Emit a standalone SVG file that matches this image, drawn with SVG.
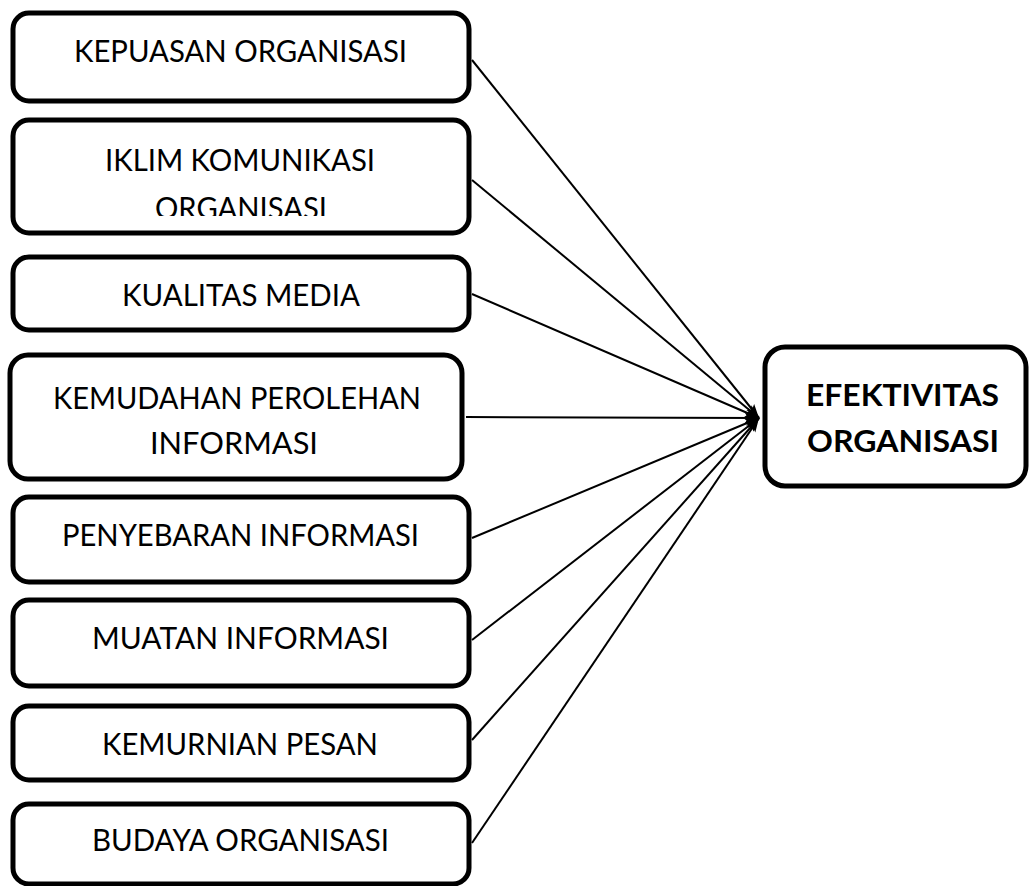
<svg xmlns="http://www.w3.org/2000/svg" width="1030" height="886" viewBox="0 0 1030 886">
<style>
.box{fill:#fff;stroke:#000;stroke-width:5}
.t{font-family:Lato,"Liberation Sans",sans-serif;font-size:30px;fill:#000}
.b{font-weight:bold}
.c{stroke:#000;stroke-width:2;fill:none}
</style>
<defs>
<marker id="ah" markerUnits="userSpaceOnUse" markerWidth="16" markerHeight="12" refX="14" refY="5" orient="auto">
<path d="M0,0 L14,5 L0,10 L3,5 Z" fill="#000"/>
</marker>
<clipPath id="clip2"><rect x="0" y="0" width="1030" height="216"/></clipPath>
</defs>
<rect width="1030" height="886" fill="#fff"/>
<g id="connectors">
<line class="c" x1="472" y1="60" x2="759" y2="418" marker-end="url(#ah)"/>
<line class="c" x1="472" y1="180" x2="759" y2="418" marker-end="url(#ah)"/>
<line class="c" x1="472" y1="294" x2="759" y2="418" marker-end="url(#ah)"/>
<line class="c" x1="466" y1="417" x2="759" y2="418" marker-end="url(#ah)"/>
<line class="c" x1="472" y1="538" x2="759" y2="418" marker-end="url(#ah)"/>
<line class="c" x1="472" y1="640" x2="759" y2="418" marker-end="url(#ah)"/>
<line class="c" x1="472" y1="740" x2="759" y2="418" marker-end="url(#ah)"/>
<line class="c" x1="472" y1="843" x2="759" y2="418" marker-end="url(#ah)"/>
</g>
<g id="n1">
<rect class="box" x="13" y="13" width="456" height="88" rx="16"/>
<text class="t" x="74" y="62" textLength="333" lengthAdjust="spacingAndGlyphs">KEPUASAN ORGANISASI</text>
</g>
<g id="n2">
<rect class="box" x="13" y="120" width="456" height="113" rx="16"/>
<text class="t" x="105" y="171" textLength="270" lengthAdjust="spacingAndGlyphs">IKLIM KOMUNIKASI</text>
<text class="t" x="155" y="219" textLength="172" lengthAdjust="spacingAndGlyphs" clip-path="url(#clip2)">ORGANISASI</text>
</g>
<g id="n3">
<rect class="box" x="13" y="257" width="456" height="73" rx="16"/>
<text class="t" x="122" y="306" textLength="238" lengthAdjust="spacingAndGlyphs">KUALITAS MEDIA</text>
</g>
<g id="n4">
<rect class="box" x="10" y="355" width="452" height="124" rx="18"/>
<text class="t" x="53" y="409" textLength="368" lengthAdjust="spacingAndGlyphs">KEMUDAHAN PEROLEHAN</text>
<text class="t" x="150" y="454" textLength="168" lengthAdjust="spacingAndGlyphs">INFORMASI</text>
</g>
<g id="n5">
<rect class="box" x="13" y="497" width="456" height="85" rx="16"/>
<text class="t" x="62" y="546" textLength="357" lengthAdjust="spacingAndGlyphs">PENYEBARAN INFORMASI</text>
</g>
<g id="n6">
<rect class="box" x="13" y="600" width="456" height="86" rx="16"/>
<text class="t" x="92" y="649" textLength="297" lengthAdjust="spacingAndGlyphs">MUATAN INFORMASI</text>
</g>
<g id="n7">
<rect class="box" x="13" y="706" width="456" height="74" rx="16"/>
<text class="t" x="102" y="755" textLength="276" lengthAdjust="spacingAndGlyphs">KEMURNIAN PESAN</text>
</g>
<g id="n8">
<rect class="box" x="13" y="804" width="456" height="80" rx="16"/>
<text class="t" x="92" y="851" textLength="297" lengthAdjust="spacingAndGlyphs">BUDAYA ORGANISASI</text>
</g>
<g id="n9">
<rect class="box" x="765" y="347" width="261" height="139" rx="20"/>
<text class="t b" x="806" y="406" textLength="193" lengthAdjust="spacingAndGlyphs">EFEKTIVITAS</text>
<text class="t b" x="807" y="452" textLength="192" lengthAdjust="spacingAndGlyphs">ORGANISASI</text>
</g>
</svg>
